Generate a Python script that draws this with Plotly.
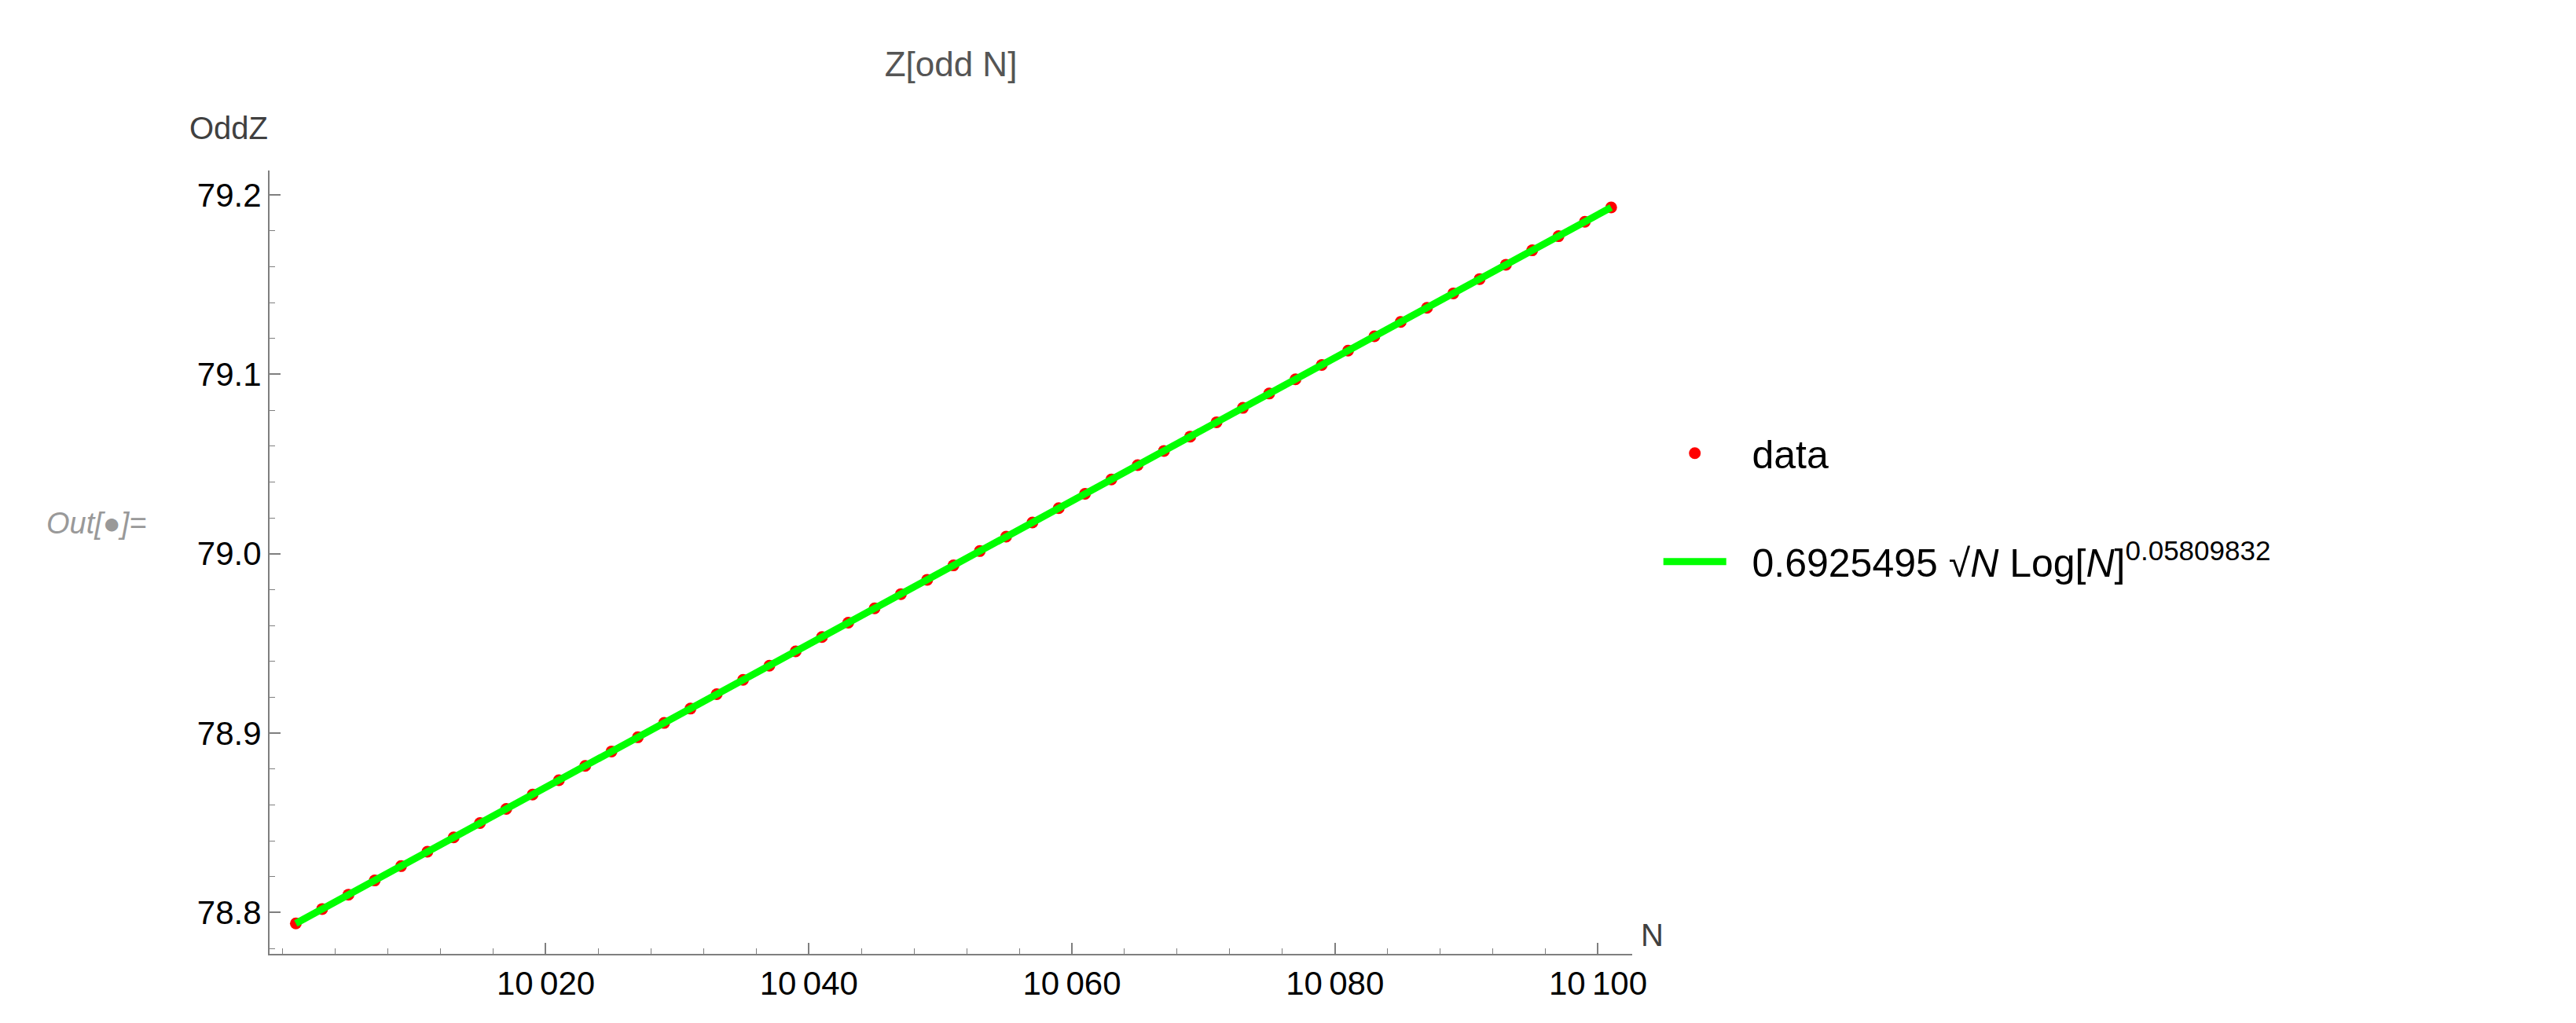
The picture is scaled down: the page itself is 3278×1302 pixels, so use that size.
import plotly.graph_objects as go

# odd N and measured Z values
n_values = list(range(10001, 10102, 2))
z_values = [
    78.7940, 78.8020, 78.8100, 78.8179, 78.8259, 78.8339, 78.8419, 78.8499,
    78.8578, 78.8658, 78.8738, 78.8818, 78.8898, 78.8977, 78.9057, 78.9137,
    78.9217, 78.9297, 78.9376, 78.9456, 78.9536, 78.9616, 78.9696, 78.9775,
    78.9855, 78.9935, 79.0015, 79.0095, 79.0174, 79.0254, 79.0334, 79.0414,
    79.0494, 79.0573, 79.0653, 79.0733, 79.0813, 79.0893, 79.0972, 79.1052,
    79.1132, 79.1212, 79.1292, 79.1371, 79.1451, 79.1531, 79.1611, 79.1691,
    79.1770, 79.1850, 79.1930,
]
x_ticks = [10020, 10040, 10060, 10080, 10100]
x_tick_text = ["10\u2009020", "10\u2009040", "10\u2009060", "10\u2009080", "10\u2009100"]
y_ticks = [78.8, 78.9, 79.0, 79.1, 79.2]
y_tick_text = ["78.8", "78.9", "79.0", "79.1", "79.2"]

AXIS = "#7f7f7f"
TEXT = "#404040"

fig = go.Figure()
fig.add_trace(go.Scatter(
    x=n_values, y=z_values, mode="markers", name="  data",
    legendgroup="data",
    marker=dict(color="#ff0000", size=15),
))
fig.add_trace(go.Scatter(
    x=n_values, y=z_values, mode="lines", legendgroup="fit",
    name="  0.6925495 √<i>N</i> Log[<i>N</i>]<sup>0.05809832</sup>",
    line=dict(color="#00ff00", width=9),
))

fig.update_layout(
    width=3278, height=1302,
    paper_bgcolor="white", plot_bgcolor="white",
    font=dict(family="Liberation Sans, Arial, sans-serif", color=TEXT, size=38),
    margin=dict(l=335, r=1209, t=209, b=96),
    title=dict(text="Z[odd N]", x=(335 + 2069) / 2 / 3278, xanchor="center",
               y=0.955, font=dict(size=44, color="#555555")),
    legend=dict(x=1.02, y=0.57, yanchor="middle", font=dict(size=50, color="#000000"),
                tracegroupgap=70, itemwidth=80, bgcolor="rgba(0,0,0,0)",
                traceorder="grouped"),
    showlegend=True,
)
fig.update_xaxes(
    range=[9999, 10102.6], showgrid=False, zeroline=False,
    showline=True, linecolor=AXIS, linewidth=2,
    tickvals=x_ticks, ticktext=x_tick_text, ticks="inside", ticklen=14,
    tickcolor=AXIS, tickwidth=2, tickfont=dict(size=42, color="#000000"),
    minor=dict(dtick=4, ticks="inside", ticklen=7, tickcolor=AXIS, tickwidth=1),
)
fig.update_yaxes(
    range=[78.777, 79.2136], showgrid=False, zeroline=False,
    showline=True, linecolor=AXIS, linewidth=2,
    tickvals=y_ticks, ticktext=y_tick_text, ticks="inside", ticklen=14,
    tickcolor=AXIS, tickwidth=2, tickfont=dict(size=42, color="#000000"),
    minor=dict(dtick=0.02, ticks="inside", ticklen=7, tickcolor=AXIS, tickwidth=1),
)
fig.add_annotation(text="OddZ", xref="paper", yref="paper", x=0, y=1.03,
                   xanchor="right", yanchor="bottom", showarrow=False,
                   font=dict(size=40, color=TEXT))
fig.add_annotation(text="N", xref="paper", yref="paper", x=1.005, y=0.0,
                   xanchor="left", yanchor="bottom", showarrow=False,
                   font=dict(size=40, color=TEXT))
fig.add_annotation(text="<i>Out[●]=</i>", xref="paper", yref="paper",
                   x=-0.165, y=0.55, xanchor="left", showarrow=False,
                   font=dict(size=38, color="#999999"))

fig.write_html("out.html")
